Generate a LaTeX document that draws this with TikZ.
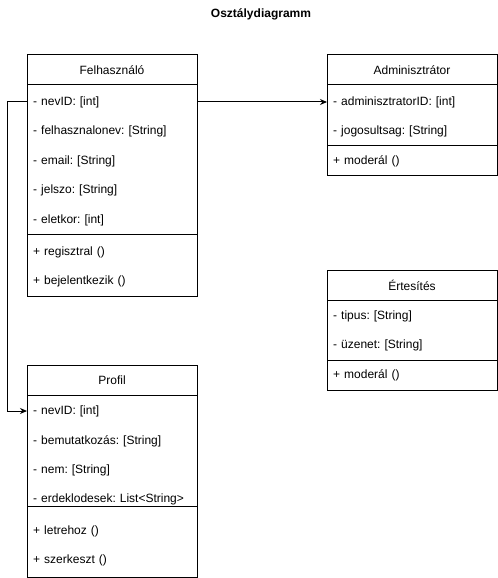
\documentclass[tikz,border=0pt]{standalone}
\usepackage{fontspec}
\setmainfont{Liberation Sans}
\usetikzlibrary{arrows.meta}
\frenchspacing
\tikzset{
  x=1bp, y=-1bp,
  every node/.style={font=\fontsize{12bp}{14bp}\selectfont},
  box/.style={draw=black, line width=1bp},
  sep/.style={draw=black, line width=1bp},
  row/.style={anchor=west, text width=158bp, inner xsep=6bp, inner ysep=0pt, align=left, yshift=-1bp},
  hdr/.style={inner sep=0pt},
  conn/.style={draw=black, line width=1bp, -{Stealth[length=7bp,width=6bp]}},
}
\begin{document}
\begin{tikzpicture}
\useasboundingbox[fill=white] (0,0) rectangle (498,578);

\node[font=\fontsize{12bp}{14bp}\selectfont\bfseries, inner sep=0pt] (title) at (261,14) {Osztálydiagramm};

% Felhasznalo
\draw[box] (27,55) rectangle (197,296);
\draw[sep] (27,85) -- (197,85);
\draw[sep] (27,234) -- (197,234);
\node[hdr] (fh) at (112,70) {Felhasználó};
\node[row] (f1) at (27,101) {- nevID: [int]};
\node[row] (f2) at (27,130) {- felhasznalonev: [String]};
\node[row] (f3) at (27,160) {- email: [String]};
\node[row] (f4) at (27,189) {- jelszo: [String]};
\node[row] (f5) at (27,219) {- eletkor: [int]};
\node[row] (f6) at (27,251) {+ regisztral ()};
\node[row] (f7) at (27,280) {+ bejelentkezik ()};

% Adminisztrator
\draw[box] (327,55) rectangle (497,175);
\draw[sep] (327,85) -- (497,85);
\draw[sep] (327,146) -- (497,146);
\node[hdr] (ah) at (412,70) {Adminisztrátor};
\node[row] (a1) at (327,101) {- adminisztratorID: [int]};
\node[row] (a2) at (327,130) {- jogosultsag: [String]};
\node[row] (a3) at (327,160) {+ moderál ()};

% Ertesites
\draw[box] (327,270) rectangle (497,390);
\draw[sep] (327,300) -- (497,300);
\draw[sep] (327,360) -- (497,360);
\node[hdr] (eh) at (412,285) {Értesítés};
\node[row] (e1) at (327,315) {- tipus: [String]};
\node[row] (e2) at (327,344) {- üzenet: [String]};
\node[row] (e3) at (327,374) {+ moderál ()};

% Profil
\draw[box] (27,365) rectangle (197,577);
\draw[sep] (27,395) -- (197,395);
\draw[sep] (27,506) -- (197,506);
\node[hdr] (ph) at (112,380) {Profil};
\node[row] (p1) at (27,410) {- nevID: [int]};
\node[row] (p2) at (27,440) {- bemutatkozás: [String]};
\node[row] (p3) at (27,469) {- nem: [String]};
\node[row] (p4) at (27,498) {- erdeklodesek: List<String>};
\node[row] (p5) at (27,530) {+ letrehoz ()};
\node[row] (p6) at (27,559) {+ szerkeszt ()};

% connectors
\coordinate (bend) at (7,0);
\draw[conn] (f1.east) -- (a1.west);
\draw[conn] (f1.west) -- (bend |- f1.west) -- (bend |- p1.west) -- (p1.west);
\end{tikzpicture}
\end{document}
